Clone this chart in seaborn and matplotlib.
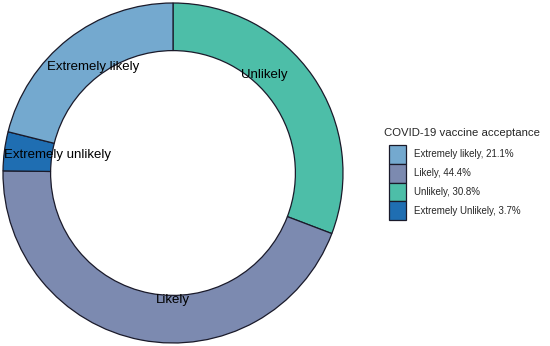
import matplotlib
matplotlib.use("Agg")
import matplotlib.pyplot as plt
import seaborn as sns
import numpy as np
from matplotlib.patches import Patch

sns.set_style("white")
plt.rcParams['font.family'] = ['Liberation Sans', 'DejaVu Sans']

# data (drawing order: clockwise from 12 o'clock)
categories = ["Unlikely", "Likely", "Extremely unlikely", "Extremely likely"]
values = [30.8, 44.4, 3.7, 21.1]
colors = ["#4DBEA8", "#7C8AB0", "#1F6EB2", "#74A9CF"]
# slice label angles (degrees clockwise from top) and radii, as placed in the reference
label_angles = [43, 180, 279, 323]
label_radii = [0.79, 0.75, 0.69, 0.78]

legend_title = "COVID-19 vaccine acceptance"
legend_order = ["Extremely likely", "Likely", "Unlikely", "Extremely unlikely"]
legend_labels = ["Extremely likely, 21.1%", "Likely, 44.4%", "Unlikely, 30.8%",
                 "Extremely Unlikely, 3.7%"]

W, H = 550, 346
fig = plt.figure(figsize=(W / 100, H / 100), dpi=100)
ax = fig.add_axes([3 / W, 3 / H, 340 / W, 340 / H])
wedges, _ = ax.pie(values, colors=colors, startangle=90, counterclock=False,
                   radius=1.0,
                   wedgeprops=dict(width=0.28, edgecolor="#1a1a2a", linewidth=0.9))
ax.set_xlim(-1.0, 1.0)
ax.set_ylim(-1.0, 1.0)
ax.set_aspect("equal")
ax.axis("off")

for cat, ang, r in zip(categories, label_angles, label_radii):
    t = np.deg2rad(ang)
    ax.text(r * np.sin(t), r * np.cos(t), cat, ha="center", va="center",
            fontsize=9.5, color="black")

fig.text(384 / W, 1 - 133 / H, legend_title, ha="left", va="center", fontsize=8.2)

phandles = [Patch(facecolor=colors[categories.index(c)], edgecolor="#1a1a2a", linewidth=0.9)
            for c in legend_order]
leg = fig.legend(phandles, legend_labels,
                 loc="upper left", bbox_to_anchor=(389 / W, 1 - 145 / H),
                 frameon=False, fontsize=7,
                 handlelength=1.75, handleheight=2.6, labelspacing=0.0,
                 handletextpad=0.82, borderaxespad=0, borderpad=0)
fig.savefig("out.png", dpi=100)
